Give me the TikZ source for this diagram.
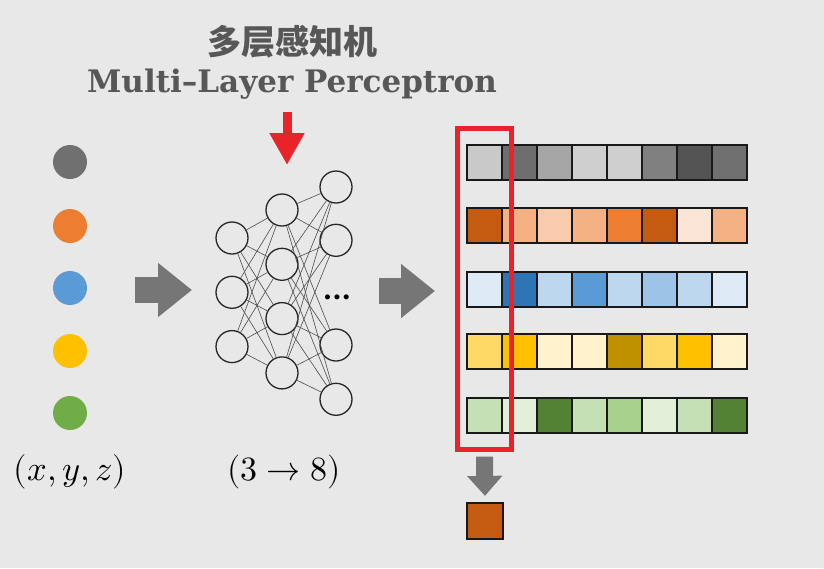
\documentclass[tikz,border=0pt]{standalone}
\usepackage{unicode-math}
\setmathfont{Latin Modern Math}
\newfontfamily\cjkbf{Noto Sans CJK SC Black}
\newfontfamily\titlefont{DejaVu Serif}
\usetikzlibrary{positioning,arrows.meta,fit}
\definecolor{bg}{HTML}{E8E8E8}
\definecolor{titlegray}{HTML}{575757}
\definecolor{arrowgray}{HTML}{767676}
\definecolor{markred}{HTML}{E8232A}
\definecolor{dotgray}{HTML}{707070}
\definecolor{ordk}{HTML}{C55A11}
\definecolor{orng}{HTML}{ED7D31}
\definecolor{orlt}{HTML}{F4B183}
\definecolor{orpl}{HTML}{F8CBAD}
\definecolor{orvl}{HTML}{FBE5D6}
\definecolor{bldk}{HTML}{2E75B6}
\definecolor{blue}{HTML}{5B9BD5}
\definecolor{bllt}{HTML}{9DC3E6}
\definecolor{blpl}{HTML}{BDD7EE}
\definecolor{blvl}{HTML}{DEEBF7}
\definecolor{yedk}{HTML}{BF9000}
\definecolor{yelo}{HTML}{FFC000}
\definecolor{yelt}{HTML}{FFD966}
\definecolor{yevl}{HTML}{FFF2CC}
\definecolor{grdk}{HTML}{548235}
\definecolor{grn}{HTML}{70AD47}
\definecolor{grlt}{HTML}{A9D18E}
\definecolor{grpl}{HTML}{C5E0B4}
\definecolor{grvl}{HTML}{E2F0D9}
\tikzset{
  dot/.style={circle,minimum size=34pt,inner sep=0pt},
  neuron/.style={circle,draw=black!85,line width=1.3pt,minimum size=32pt,inner sep=0pt},
  link/.style={draw=black!70,line width=0.6pt},
  cell/.style={rectangle,draw=black!90,line width=2.2pt,minimum size=35pt,inner sep=0pt},
  bigarrow/.style={draw=arrowgray,line width=26pt,-{Triangle[length=34pt,width=52pt]}},
}

\begin{document}
\begin{tikzpicture}[x=1pt,y=-1pt]
  \fill[bg] (0,0) rectangle (824,568);
  \useasboundingbox (0,0) rectangle (824,568);

  % title
  \node[text=titlegray,font=\cjkbf\fontsize{34}{36}\selectfont] (t1) at (292,42) {多层感知机};
  \node[text=titlegray,font=\titlefont\bfseries\fontsize{31}{36}\selectfont] (t2) at (292,84) {Multi–Layer Perceptron};

  % input points
  \node[dot,fill=dotgray] (d1) at (70,162) {};
  \node[dot,fill=orng] (d2) at (70,226) {};
  \node[dot,fill=blue] (d3) at (70,288) {};
  \node[dot,fill=yelo] (d4) at (70,351) {};
  \node[dot,fill=grn] (d5) at (70,413) {};
  \node[font=\fontsize{34.5}{40}\selectfont] (xyz) at (70,472) {$(x,y,z)$};

  % network
  \node[neuron] (i1) at (232,238) {};
  \node[neuron,below=21pt of i1] (i2) {};
  \node[neuron,below=21pt of i2] (i3) {};
  \node[neuron] (h1) at (282,210) {};
  \node[neuron,below=21pt of h1] (h2) {};
  \node[neuron,below=21pt of h2] (h3) {};
  \node[neuron,below=21pt of h3] (h4) {};
  \node[neuron] (o1) at (336,187) {};
  \node[neuron,below=20pt of o1] (o2) {};
  \node[neuron] (o3) at (336,345) {};
  \node[neuron,below=21pt of o3] (o4) {};
  \node[inner sep=0pt,font=\titlefont\bfseries\fontsize{27}{28}\selectfont] (more) at (337,297) {...};
  \foreach \a in {1,2,3}
    \foreach \b in {1,2,3,4}
      \draw[link] (i\a) -- (h\b);
  \foreach \a in {1,2,3,4}
    \foreach \b in {1,2,3,4}
      \draw[link] (h\a) -- (o\b);
  \node[font=\fontsize{34}{40}\selectfont] (dims) at (284,472) {$(3\rightarrow8)$};

  % arrows
  \coordinate (a1) at (135,290);
  \coordinate (b1) at (192,290);
  \coordinate (a2) at (379,291);
  \coordinate (b2) at (435,291);
  \draw[bigarrow] (a1) -- (b1);
  \draw[bigarrow] (a2) -- (b2);
  \coordinate (r1) at (287,112);
  \coordinate (r2) at (287,165);
  \draw[draw=markred,line width=9pt,-{Triangle[length=32pt,width=33pt]}] (r1) -- (r2);

  % embeddings
  \foreach \r/\y/\cl in {
      1/162.5/{black!21,black!57,black!35,black!19,black!19,black!50,black!67,black!56},
      2/225.5/{ordk,orlt,orpl,orlt,orng,ordk,orvl,orlt},
      3/289.5/{blvl,bldk,blpl,blue,blpl,bllt,blpl,blvl},
      4/351.5/{yelt,yelo,yevl,yevl,yedk,yelt,yelo,yevl},
      5/415.5/{grpl,grvl,grdk,grpl,grlt,grvl,grpl,grdk}}
    \foreach [count=\c] \f in \cl
      \node[cell,fill=\f] (m\r-\c) at ({467+35*\c-17.5},\y) {};

  \node[draw=markred,line width=5pt,inner xsep=8pt,inner ysep=15pt,fit=(m1-1)(m5-1)] (sel) {};
  \node[cell,minimum size=36pt,fill=ordk] (out) at (485,521) {};
  \draw[draw=arrowgray,line width=17pt,-{Triangle[length=20pt,width=34pt]}]
    ([yshift=-5pt]sel.south) -- ([yshift=6pt]out.north);
\end{tikzpicture}
\end{document}
